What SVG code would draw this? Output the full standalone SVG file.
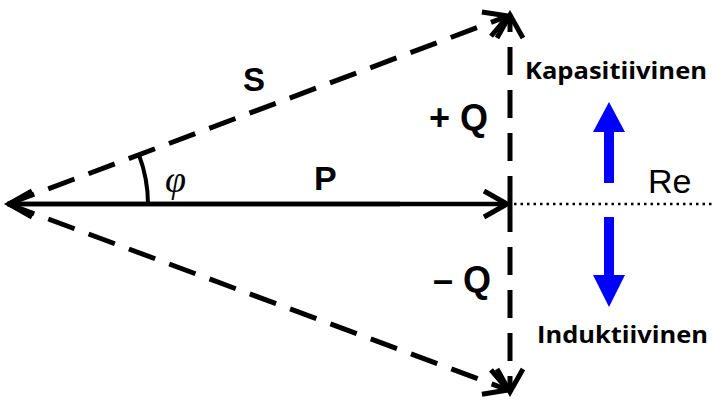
<svg xmlns="http://www.w3.org/2000/svg" width="713" height="403" viewBox="0 0 713 403">
<style>
.dash{stroke:#000;stroke-width:5;fill:none;stroke-dasharray:28 15}
.solid{stroke:#000;stroke-width:4.5;fill:none}
.lbl{font-family:"Liberation Sans",Arial,sans-serif;font-weight:bold;fill:#000}
.cal{font-family:"Open Sans","Liberation Sans",sans-serif;font-weight:bold;fill:#000}
.blue{fill:#0000ff}
</style>
<defs>
<marker id="chev" markerUnits="userSpaceOnUse" viewBox="-26 -14 30 28" refX="0" refY="0" markerWidth="30" markerHeight="28" orient="auto" overflow="visible">
<path d="M -23 -13 L 0 0 L -23 13" fill="none" stroke="#000" stroke-width="5" stroke-linecap="butt" stroke-linejoin="miter"/>
</marker>
</defs>
<rect width="713" height="403" fill="#fff"/>
<g id="connectors">
<line class="dash" x1="8" y1="204" x2="508" y2="16" marker-end="url(#chev)"/>
<line class="dash" x1="8" y1="204" x2="508" y2="390" marker-end="url(#chev)"/>
<line class="dash" x1="510" y1="204" x2="510" y2="15" marker-end="url(#chev)"/>
<line class="dash" x1="510" y1="204" x2="510" y2="392" marker-end="url(#chev)"/>
<line class="solid" x1="12" y1="204" x2="507" y2="204" marker-end="url(#chev)"/>
<line class="solid" x1="400" y1="204" x2="9" y2="204" marker-end="url(#chev)"/>
<line x1="514" y1="204" x2="713" y2="204" stroke="#000" stroke-width="2.5" stroke-dasharray="2.5 4"/>
<path d="M 148 204 A 140 140 0 0 0 139 155" fill="none" stroke="#000" stroke-width="4"/>
</g>
<g id="arrow-up"><polygon class="blue" points="604,183 614,183 614,132 625,132 609,102 593,132 604,132"/></g>
<g id="arrow-down"><polygon class="blue" points="604,217 614,217 614,275 625,275 609,307 593,275 604,275"/></g>
<g id="label-S"><text class="lbl" x="243" y="91" font-size="33">S</text></g>
<g id="label-P"><text class="lbl" x="314" y="190" font-size="34">P</text></g>
<g id="label-phi"><text x="165" y="192" font-family="Liberation Serif,serif" font-style="italic" font-size="38" fill="#000">φ</text></g>
<g id="label-plusQ"><text class="lbl" x="429" y="130" font-size="36">+ Q</text></g>
<g id="label-minusQ"><text class="lbl" x="433" y="292" font-size="36">– Q</text></g>
<g id="label-Re"><text x="648" y="193" font-family="Liberation Sans,Arial,sans-serif" font-size="34" fill="#000">Re</text></g>
<g id="label-kap"><text class="cal" x="525" y="79" font-size="24" textLength="182" lengthAdjust="spacingAndGlyphs">Kapasitiivinen</text></g>
<g id="label-ind"><text class="cal" x="537" y="343" font-size="24" textLength="171" lengthAdjust="spacingAndGlyphs">Induktiivinen</text></g>
</svg>
